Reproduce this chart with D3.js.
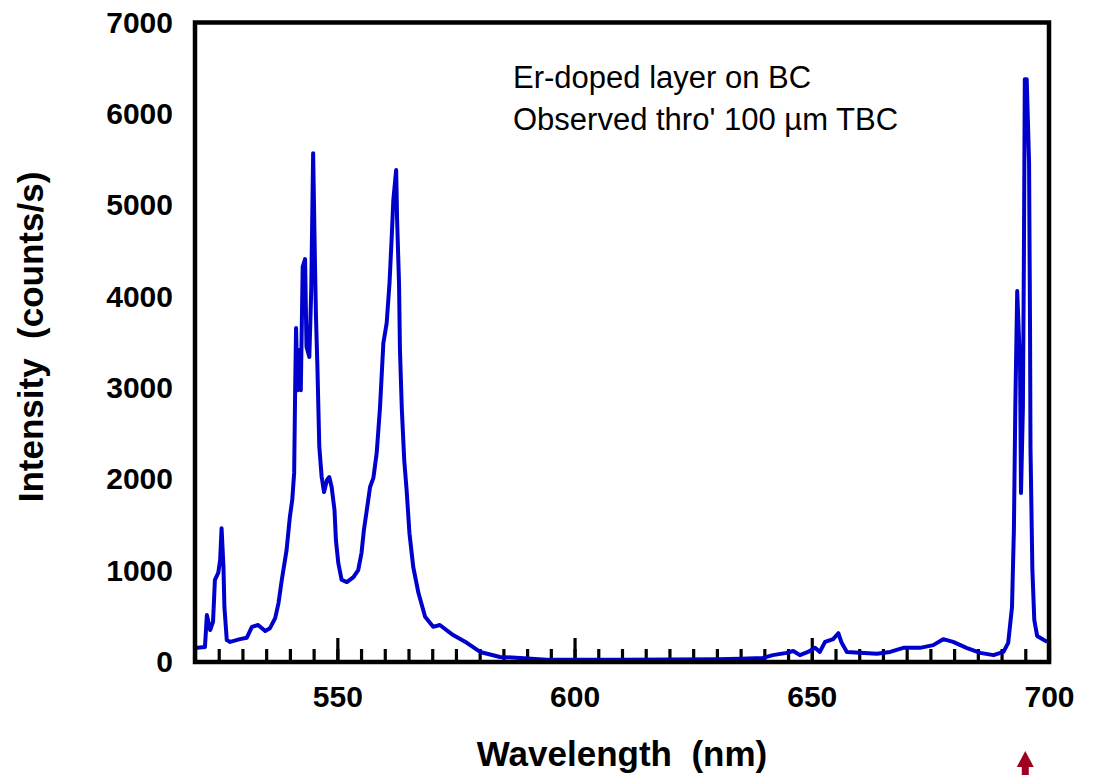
<!DOCTYPE html>
<html>
<head>
<meta charset="utf-8">
<script src="https://cdn.jsdelivr.net/npm/d3@7/dist/d3.min.js"></script>
<style>
  html, body { margin: 0; padding: 0; background: #fff; }
  svg { display: block; }
  text { font-family: Arial, "Liberation Sans", sans-serif; }
</style>
</head>
<body>
<svg id="chart" width="1094" height="775"></svg>
<script>
// Emission spectrum of an Er-doped layer (wavelength in nm, intensity in counts/s)
const wavelength = [
  520.0, 522.1, 522.5, 523.2, 523.8, 524.2, 524.9, 525.3, 525.6, 526.0,
  526.2, 526.7, 527.4, 529.5, 530.9, 532.0, 533.3, 534.8, 535.8, 536.9,
  537.6, 538.3, 539.3, 540.0, 540.5, 540.9, 541.1, 541.3, 541.6, 542.0,
  542.3, 542.7, 543.2, 543.5, 544.1, 544.5, 544.9, 545.3, 545.5, 545.8,
  546.2, 546.7, 547.2, 547.8, 548.3, 548.8, 549.4, 549.7, 550.2, 550.9,
  552.0, 553.4, 554.4, 555.1, 555.6, 556.3, 556.9, 557.6, 558.3, 559.0,
  559.7, 560.4, 561.0, 561.5, 561.8, 562.4, 562.6, 563.0, 563.2, 563.6,
  564.1, 564.6, 565.2, 566.0, 567.1, 568.5, 570.2, 571.6, 574.4, 577.3,
  580.1, 584.3, 588.5, 594.1, 600.0, 610.0, 620.0, 630.0, 635.0, 639.7,
  641.8, 644.7, 646.1, 647.5, 649.2, 650.7, 651.7, 652.8, 654.5, 655.6,
  656.3, 657.4, 660.2, 663.7, 666.5, 669.3, 672.8, 675.6, 677.7, 679.8,
  682.6, 685.5, 688.3, 690.4, 691.4, 692.2, 692.6, 692.9, 693.3, 693.9,
  694.1, 694.5, 694.7, 694.9, 695.3, 695.8, 696.0, 696.1, 696.5, 696.9,
  697.5, 699.6
];
const intensity = [
  153, 164, 514, 350, 440, 900, 975, 1115, 1465, 1040,
  600, 240, 220, 250, 265, 385, 405, 340, 370, 480,
  645, 900, 1225, 1590, 1775, 2070, 2945, 3655, 2975, 3415,
  2975, 4325, 4410, 3450, 3340, 4070, 5570, 4325, 3775, 3230,
  2355, 2025, 1860, 1990, 2025, 1915, 1665, 1335, 1085, 900,
  875, 930, 1005, 1195, 1445, 1695, 1915, 2015, 2290, 2790,
  3490, 3710, 4150, 4695, 5055, 5385, 4840, 4150, 3415, 2760,
  2210, 1885, 1410, 1040, 755, 495, 385, 405, 295, 210,
  110, 55, 45, 25, 25, 25, 28, 30, 35, 45,
  75, 100, 120, 75, 110, 155, 110, 220, 250, 315,
  210, 110, 100, 90, 110, 155, 155, 185, 250, 220,
  155, 100, 75, 110, 210, 600, 1445, 2790, 4060, 3240,
  1850, 2790, 4355, 6380, 6380, 5470, 3680, 2340, 1005, 460,
  285, 220
];

const xMajorTicks = [550, 600, 650, 700];
const xMinorTicks = d3.range(520, 701, 5);
const yTicks = [0, 1000, 2000, 3000, 4000, 5000, 6000, 7000];
const annotationLines = ["Er-doped layer on BC", "Observed thro' 100 \u00b5m TBC"];
const markerWavelength = 695;

const plotLeft = 195, plotRight = 1049, plotTop = 22.5, plotBottom = 662;

const svg = d3.select("#chart");

const x = d3.scaleLinear().domain([520, 700]).range([plotLeft, plotRight]);
const y = d3.scaleLinear().domain([0, 7000]).range([plotBottom, plotTop]);

// minor ticks, pointing into the plot
const minorAxis = d3.axisBottom(x).tickValues(xMinorTicks).tickSize(-13).tickFormat("");
svg.append("g").attr("transform", `translate(0,${plotBottom})`).call(minorAxis)
  .call(g => g.select(".domain").remove())
  .call(g => g.selectAll("line").attr("stroke", "#000").attr("stroke-width", 3.2));

// major ticks with labels
const majorAxis = d3.axisBottom(x).tickValues(xMajorTicks).tickSize(-24).tickPadding(24)
  .tickFormat(d3.format("d"));
svg.append("g").attr("transform", `translate(0,${plotBottom})`).call(majorAxis)
  .call(g => g.select(".domain").remove())
  .call(g => g.selectAll("line").attr("stroke", "#000").attr("stroke-width", 3.2))
  .call(g => g.selectAll("text")
    .attr("font-family", "Arial, 'Liberation Sans', sans-serif")
    .attr("font-size", 30).attr("font-weight", "bold").attr("fill", "#000"));

// y labels (no tick marks)
const yAxis = d3.axisLeft(y).tickValues(yTicks).tickSize(0).tickPadding(22)
  .tickFormat(d3.format("d"));
svg.append("g").attr("transform", `translate(${plotLeft},0)`).call(yAxis)
  .call(g => g.select(".domain").remove())
  .call(g => g.selectAll("text")
    .attr("font-family", "Arial, 'Liberation Sans', sans-serif")
    .attr("font-size", 30).attr("font-weight", "bold").attr("fill", "#000"));

// spectrum
const data = wavelength.map((w, i) => [w, intensity[i]]);
const line = d3.line().x(d => x(d[0])).y(d => y(d[1]));
svg.append("path")
  .datum(data)
  .attr("d", line)
  .attr("fill", "none")
  .attr("stroke", "#0000cc")
  .attr("stroke-width", 4)
  .attr("stroke-linejoin", "round");

// plot frame
svg.append("rect")
  .attr("x", plotLeft).attr("y", plotTop)
  .attr("width", plotRight - plotLeft).attr("height", plotBottom - plotTop)
  .attr("fill", "none").attr("stroke", "#000").attr("stroke-width", 4.5);

// annotation
svg.append("g").selectAll("text")
  .data(annotationLines)
  .join("text")
  .attr("x", 513)
  .attr("y", (d, i) => 87.5 + i * 42)
  .attr("font-size", 31)
  .attr("fill", "#000")
  .text(d => d);

// axis titles
svg.append("text")
  .attr("x", (plotLeft + plotRight) / 2).attr("y", 766)
  .attr("text-anchor", "middle")
  .attr("font-size", 35).attr("font-weight", "bold")
  .style("white-space", "pre")
  .text("Wavelength  (nm)");

svg.append("text")
  .attr("transform", "translate(43,337) rotate(-90)")
  .attr("text-anchor", "middle")
  .attr("font-size", 35).attr("font-weight", "bold")
  .style("white-space", "pre")
  .text("Intensity  (counts/s)");

// marker arrow under the axis
const ax = x(markerWavelength);
svg.append("path")
  .attr("d", `M${ax},751 L${ax + 8.5},767 L${ax + 3.5},767 L${ax + 3.5},775 L${ax - 3.5},775 L${ax - 3.5},767 L${ax - 8.5},767 Z`)
  .attr("fill", "#a00020");
</script>
</body>
</html>
